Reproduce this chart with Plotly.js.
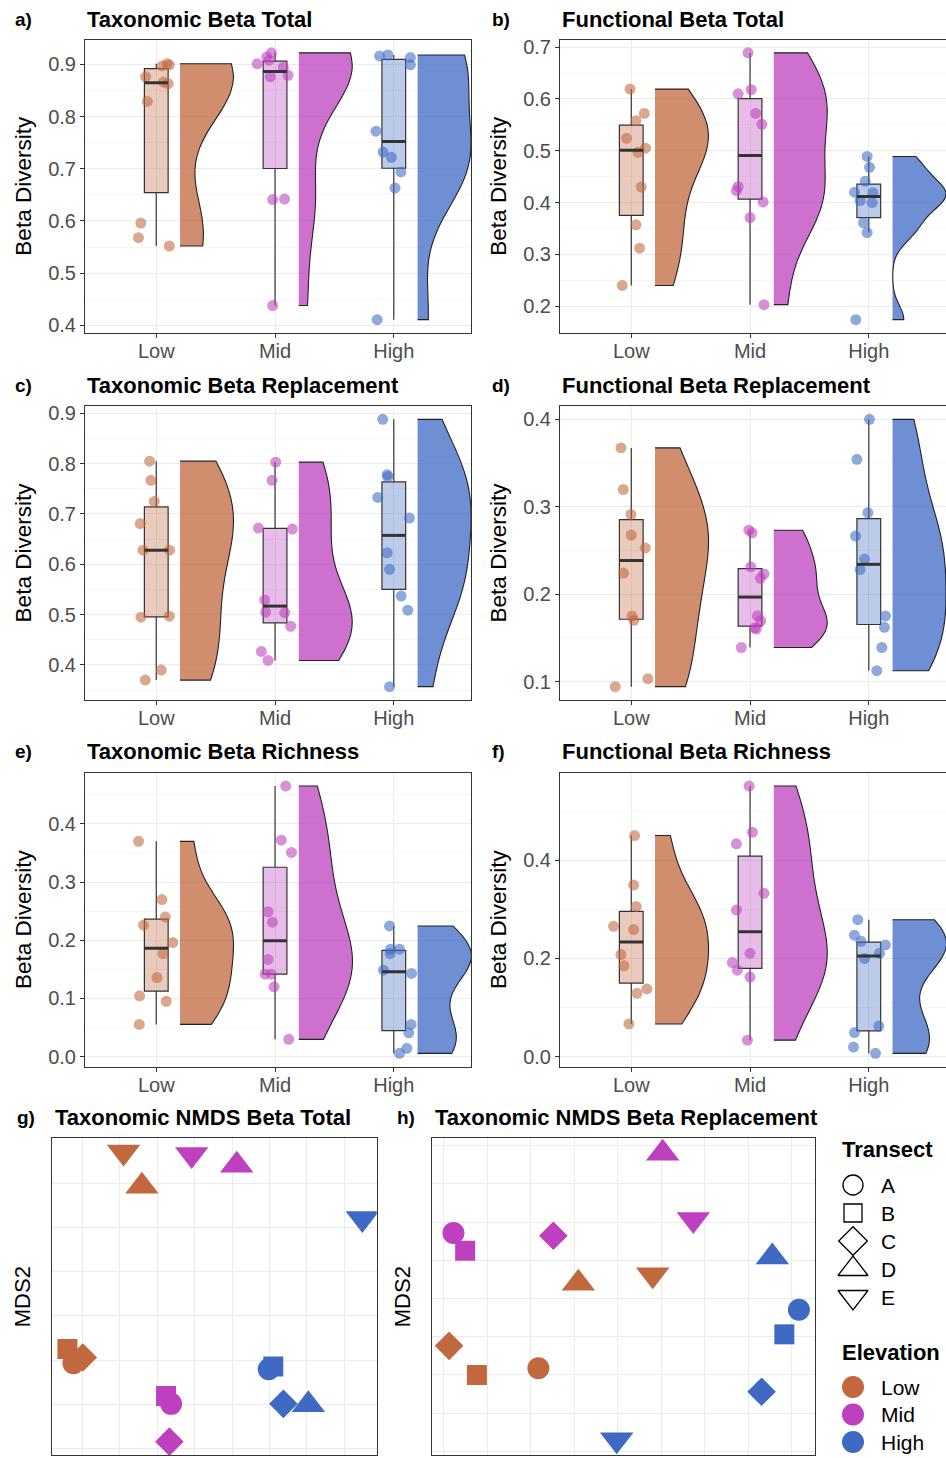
<!DOCTYPE html>
<html><head><meta charset="utf-8">
<script src="https://cdn.plot.ly/plotly-3.0.1.min.js"></script>
<style>html,body{margin:0;padding:0;background:#fff;} #chart{width:946px;height:1458px;}</style>
</head><body><div id="chart"></div>
<script>
// ---------------- DATA ----------------
const elevations = ['Low', 'Mid', 'High'];
const transects = ['A', 'B', 'C', 'D', 'E'];

// a) Taxonomic Beta Total  (rows: Low, Mid, High)
const taxTotal = [
  [0.901, 0.899, 0.897, 0.876, 0.866, 0.863, 0.829, 0.596, 0.568, 0.552],
  [0.901, 0.914, 0.922, 0.908, 0.894, 0.879, 0.876, 0.641, 0.642, 0.438],
  [0.916, 0.918, 0.913, 0.899, 0.772, 0.732, 0.722, 0.694, 0.663, 0.411]
];
const taxTotalJitter = [
  [0.09, 0.11, 0.05, -0.09, 0.06, 0.10, -0.075, -0.13, -0.15, 0.11],
  [-0.15, -0.07, -0.03, -0.05, 0.07, 0.11, -0.04, -0.02, 0.08, -0.02],
  [-0.12, -0.05, 0.14, 0.14, -0.15, -0.09, -0.02, 0.06, 0.01, -0.14]
];
// b) Functional Beta Total
const funTotal = [
  [0.619, 0.572, 0.558, 0.524, 0.505, 0.497, 0.430, 0.357, 0.312, 0.240],
  [0.689, 0.610, 0.618, 0.572, 0.551, 0.431, 0.423, 0.401, 0.371, 0.203],
  [0.489, 0.468, 0.441, 0.420, 0.419, 0.404, 0.400, 0.361, 0.342, 0.174]
];
const funTotalJitter = [
  [-0.01, 0.11, 0.04, -0.04, 0.12, 0.056, 0.084, 0.04, 0.07, -0.076],
  [-0.017, -0.10, 0.01, 0.048, 0.10, -0.10, -0.115, 0.11, 0.0, 0.118],
  [-0.014, 0.006, -0.03, -0.12, 0.034, -0.073, 0.028, -0.045, -0.014, -0.11]
];
// c) Taxonomic Beta Replacement
const taxRepl = [
  [0.805, 0.767, 0.725, 0.681, 0.628, 0.628, 0.495, 0.497, 0.390, 0.370],
  [0.803, 0.767, 0.672, 0.670, 0.529, 0.505, 0.504, 0.477, 0.427, 0.409],
  [0.888, 0.778, 0.774, 0.733, 0.692, 0.623, 0.590, 0.537, 0.509, 0.357]
];
const taxReplJitter = [
  [-0.056, -0.045, -0.017, -0.135, -0.112, 0.112, -0.129, 0.11, 0.042, -0.093],
  [0.006, -0.025, -0.14, 0.146, -0.087, -0.079, 0.081, 0.132, -0.115, -0.059],
  [-0.093, -0.056, -0.05, -0.135, 0.132, -0.056, -0.036, 0.062, 0.118, -0.036]
];
// d) Functional Beta Replacement
const funRepl = [
  [0.367, 0.3195, 0.291, 0.2675, 0.2527, 0.224, 0.175, 0.170, 0.1034, 0.0943],
  [0.273, 0.270, 0.231, 0.223, 0.218, 0.1752, 0.1695, 0.1615, 0.160, 0.139],
  [0.3996, 0.354, 0.293, 0.2663, 0.240, 0.228, 0.175, 0.162, 0.139, 0.1125]
];
const funReplJitter = [
  [-0.087, -0.067, -0.003, 0.0, 0.118, -0.065, 0.006, 0.022, 0.14, -0.135],
  [-0.01, 0.017, 0.006, 0.118, 0.087, 0.062, 0.09, 0.04, 0.053, -0.073],
  [0.006, -0.10, -0.008, -0.112, -0.036, -0.073, 0.14, 0.132, 0.11, 0.067]
];
// e) Taxonomic Beta Richness
const taxRich = [
  [0.370, 0.270, 0.240, 0.226, 0.196, 0.177, 0.136, 0.1046, 0.095, 0.0554],
  [0.465, 0.372, 0.351, 0.249, 0.231, 0.167, 0.1417, 0.1417, 0.120, 0.0297],
  [0.2246, 0.1846, 0.1846, 0.177, 0.1486, 0.143, 0.0554, 0.041, 0.0143, 0.0057]
];
const taxRichJitter = [
  [-0.149, 0.048, 0.076, -0.107, 0.14, 0.056, 0.006, -0.14, 0.084, -0.143],
  [0.09, 0.053, 0.138, -0.059, -0.022, -0.059, -0.084, -0.031, -0.008, 0.115],
  [-0.036, -0.028, 0.048, -0.031, -0.087, 0.149, 0.146, 0.126, 0.11, 0.048]
];
// f) Functional Beta Richness
const funRich = [
  [0.4504, 0.3496, 0.306, 0.2655, 0.2588, 0.208, 0.185, 0.138, 0.129, 0.0666],
  [0.5512, 0.457, 0.4336, 0.3328, 0.2986, 0.2104, 0.1916, 0.1761, 0.162, 0.0336],
  [0.279, 0.2474, 0.235, 0.2276, 0.2104, 0.200, 0.0622, 0.049, 0.0195, 0.0067]
];
const funRichJitter = [
  [0.028, 0.02, 0.042, -0.149, 0.02, -0.087, -0.062, 0.132, 0.048, -0.02],
  [-0.008, 0.02, -0.115, 0.118, -0.115, 0.0, -0.149, -0.107, 0.0, -0.022],
  [-0.093, -0.121, -0.065, 0.14, 0.09, -0.036, 0.084, -0.121, -0.129, 0.056]
];

// g) Taxonomic NMDS Beta Total
const nmdsElev = ['Low','Low','Low','Low','Low','Mid','Mid','Mid','Mid','Mid','High','High','High','High','High'];
const nmdsTransect = ['B','A','C','D','E','B','A','C','D','E','B','A','C','D','E'];
const gMDS1 = [-0.440, -0.424, -0.399, -0.241, -0.290, -0.1765, -0.163, -0.1676, 0.0123, -0.108, 0.110, 0.0978, 0.137, 0.2037, 0.348];
const gMDS2 = [-0.0747, -0.107, -0.094, 0.2936, 0.371, -0.181, -0.199, -0.2845, 0.341, 0.3655, -0.1147, -0.1208, -0.199, -0.2008, 0.2206];
// h) Taxonomic NMDS Beta Replacement
const hMDS1 = [-0.324, -0.1825, -0.388, -0.0905, 0.0805, -0.351, -0.378, -0.148, 0.1035, 0.174, 0.3834, 0.417, 0.331, 0.3558, -0.0023];
const hMDS2 = [-0.200, -0.1826, -0.124, 0.0397, 0.0617, 0.125, 0.171, 0.164, 0.3797, 0.2067, -0.0939, -0.0296, -0.244, 0.1087, -0.3696];

// ---------------- STYLE ----------------
const W = 946, H = 1458;
const FONT = 'Liberation Sans, Arial, Helvetica, sans-serif';
const baseRGB = { Low: [193, 104, 62], Mid: [190, 64, 190], High: [62, 106, 196] };
const rgba = (c, a) => `rgba(${c[0]},${c[1]},${c[2]},${a})`;
const symbolOf = { A: 'circle', B: 'square', C: 'diamond', D: 'triangle-up', E: 'triangle-down' };
const sizeOf = { A: 22, B: 20, C: 22, D: 29, E: 29 };
const px = x => x / W;
const py = y => 1 - y / H;

// ---------------- STATS ----------------
function q7(s, p) { const h = (s.length - 1) * p; const lo = Math.floor(h); const hi = Math.min(lo + 1, s.length - 1); return s[lo] + (h - lo) * (s[hi] - s[lo]); }
function boxStats(v) {
  const s = [...v].sort((a, b) => a - b);
  const q1 = q7(s, 0.25), med = q7(s, 0.5), q3 = q7(s, 0.75), iqr = q3 - q1;
  const lf = s.find(x => x >= q1 - 1.5 * iqr);
  const uf = [...s].reverse().find(x => x <= q3 + 1.5 * iqr);
  return { q1, med, q3, lf, uf };
}
function bwNrd0(v) {
  const n = v.length, m = v.reduce((a, b) => a + b, 0) / n;
  const sd = Math.sqrt(v.reduce((a, b) => a + (b - m) ** 2, 0) / (n - 1));
  const s = [...v].sort((a, b) => a - b);
  const lo = Math.min(sd, (q7(s, 0.75) - q7(s, 0.25)) / 1.34);
  return 0.9 * lo * Math.pow(n, -0.2);
}

// ---------------- BUILD ----------------
const violinPanels = [
  { vals: taxTotal, jit: taxTotalJitter, title: 'Taxonomic Beta Total', tag: 'a)', dtick: 0.1 },
  { vals: funTotal, jit: funTotalJitter, title: 'Functional Beta Total', tag: 'b)', dtick: 0.1 },
  { vals: taxRepl, jit: taxReplJitter, title: 'Taxonomic Beta Replacement', tag: 'c)', dtick: 0.1 },
  { vals: funRepl, jit: funReplJitter, title: 'Functional Beta Replacement', tag: 'd)', dtick: 0.1 },
  { vals: taxRich, jit: taxRichJitter, title: 'Taxonomic Beta Richness', tag: 'e)', dtick: 0.1 },
  { vals: funRich, jit: funRichJitter, title: 'Functional Beta Richness', tag: 'f)', dtick: 0.2 }
];
const colPx = [[85, 471], [560, 946]];
const rowPx = [[39.5, 333], [406, 700], [772.7, 1066.7]];
const titleY = [19, 385, 751.7];
const tagX = [13, 490];

const traces = [];
const layout = {
  width: W, height: H, margin: { l: 0, r: 0, t: 0, b: 0 },
  paper_bgcolor: 'white', plot_bgcolor: 'white', showlegend: false,
  boxmode: 'overlay', violinmode: 'overlay', font: { family: FONT },
  annotations: []
};

function titleAnn(tx, ty, tag, tagx, title) {
  layout.annotations.push({ xref: 'paper', yref: 'paper', x: px(tagx), y: py(ty), xanchor: 'left', yanchor: 'middle',
    text: tag, showarrow: false, font: { family: FONT, size: 19, color: '#000', weight: 700 } });
  layout.annotations.push({ xref: 'paper', yref: 'paper', x: px(tx), y: py(ty), xanchor: 'left', yanchor: 'middle',
    text: title, showarrow: false, font: { family: FONT, size: 22, color: '#000', weight: 700 } });
}

const axisCommon = {
  showline: true, mirror: true, linecolor: '#333', linewidth: 1, zeroline: false,
  gridcolor: '#ebebeb', gridwidth: 1
};

violinPanels.forEach((p, k) => {
  const col = k % 2, row = Math.floor(k / 2);
  const sfx = k === 0 ? '' : String(k + 1);
  const xr = 'x' + sfx, yr = 'y' + sfx;
  const all = p.vals.flat();
  const mn = Math.min(...all), mx = Math.max(...all), pad = (mx - mn) * 0.05;

  p.vals.forEach((v, gi) => {
    const c = baseRGB[elevations[gi]];
    traces.push({ type: 'violin', xaxis: xr, yaxis: yr, x0: gi + 1.2, y: v, side: 'positive', width: 0.9,
      spanmode: 'hard', bandwidth: bwNrd0(v), scalegroup: 'panel' + k, scalemode: 'width',
      points: false, box: { visible: false }, meanline: { visible: false },
      fillcolor: rgba(c, 0.75), line: { color: '#222', width: 1.1 }, hoverinfo: 'skip' });
  });
  p.vals.forEach((v, gi) => {
    const c = baseRGB[elevations[gi]];
    const st = boxStats(v);
    traces.push({ type: 'box', xaxis: xr, yaxis: yr, x: [gi + 1], q1: [st.q1], median: [st.med], q3: [st.q3],
      lowerfence: [st.lf], upperfence: [st.uf], width: 0.2, whiskerwidth: 0, boxpoints: false,
      fillcolor: rgba(c, 0.35), line: { color: '#333', width: 1.2 }, hoverinfo: 'skip' });
  });
  p.vals.forEach((v, gi) => {
    const c = baseRGB[elevations[gi]];
    traces.push({ type: 'scatter', mode: 'markers', xaxis: xr, yaxis: yr,
      x: v.map((_, i) => gi + 1 + p.jit[gi][i]), y: v,
      marker: { size: 11, color: rgba(c, 0.58), opacity: 1, line: { width: 0 } }, hoverinfo: 'skip' });
    const st = boxStats(v);
    traces.push({ type: 'scatter', mode: 'lines', xaxis: xr, yaxis: yr,
      x: [gi + 1 - 0.1, gi + 1 + 0.1], y: [st.med, st.med],
      line: { color: '#333', width: 3 }, hoverinfo: 'skip' });
  });

  layout['xaxis' + sfx] = Object.assign({}, axisCommon, {
    domain: [px(colPx[col][0]), px(colPx[col][1])], anchor: yr, range: [0.4, 3.65],
    tickvals: [1, 2, 3], ticktext: elevations, showgrid: true,
    ticks: 'outside', ticklen: 4, tickcolor: '#333', tickwidth: 1, ticklabelstandoff: -4,
    tickfont: { family: FONT, size: 20, color: '#4d4d4d' }
  });
  layout['yaxis' + sfx] = Object.assign({}, axisCommon, {
    domain: [py(rowPx[row][1]), py(rowPx[row][0])], anchor: xr, range: [mn - pad, mx + pad],
    tick0: 0, dtick: p.dtick, tickformat: '.1f', showgrid: true,
    minor: { dtick: p.dtick / 2, tick0: 0, showgrid: true, gridcolor: '#f2f2f2', gridwidth: 0.7 },
    ticks: 'outside', ticklen: 4, tickcolor: '#333', tickwidth: 1,
    tickfont: { family: FONT, size: 20, color: '#4d4d4d' },
    title: { text: 'Beta Diversity', font: { family: FONT, size: 22.5, color: '#000' }, standoff: 10 }
  });
  titleAnn(colPx[col][0], titleY[row], p.tag, tagX[col], p.title);
});

// NMDS panels
const nmds = [
  { x: gMDS1, y: gMDS2, title: 'Taxonomic NMDS Beta Total', tag: 'g)', xpx: [51.7, 376.7], tagx: 15,
    xrange: [-0.482, 0.3863], yrange: [-0.3147, 0.402] },
  { x: hMDS1, y: hMDS2, title: 'Taxonomic NMDS Beta Replacement', tag: 'h)', xpx: [431.7, 815], tagx: 395,
    xrange: [-0.428, 0.454], yrange: [-0.4096, 0.419] }
];
nmds.forEach((p, j) => {
  const n = 7 + j, xr = 'x' + n, yr = 'y' + n;
  traces.push({ type: 'scatter', mode: 'markers', xaxis: xr, yaxis: yr, x: p.x, y: p.y,
    marker: { symbol: nmdsTransect.map(t => symbolOf[t]), size: nmdsTransect.map(t => sizeOf[t]), opacity: 1,
      color: nmdsElev.map(e => rgba(baseRGB[e], 1)), line: { width: 0 } }, hoverinfo: 'skip' });
  layout['xaxis' + n] = Object.assign({}, axisCommon, {
    domain: [px(p.xpx[0]), px(p.xpx[1])], anchor: yr, range: p.xrange, tick0: 0, dtick: 0.1,
    showgrid: true, showticklabels: false, ticks: ''
  });
  layout['yaxis' + n] = Object.assign({}, axisCommon, {
    domain: [py(1455), py(1138.3)], anchor: xr, range: p.yrange, tick0: 0, dtick: 0.1,
    showgrid: true, showticklabels: false, ticks: '',
    title: { text: 'MDS2', font: { family: FONT, size: 22, color: '#000' }, standoff: 13 }
  });
  titleAnn(p.xpx[0] + 1, 1117.5, p.tag, p.tagx, p.title);
});

// Legend (drawn as its own hidden-axis subplot, positions in px)
layout.xaxis9 = { domain: [px(820), 1], range: [820, 946], visible: false, fixedrange: true };
layout.yaxis9 = { domain: [0, py(1125)], range: [1458, 1125], visible: false, anchor: 'x9' };
const legSymX = 853, legTxtX = 879;
const tRowY = transects.map((t, i) => 1185 + i * 28);
const eRowY = elevations.map((e, i) => 1387 + i * 27.5);
const legSize = { A: 20, B: 18, C: 22, D: 26, E: 26 };
traces.push({ type: 'scatter', mode: 'markers', xaxis: 'x9', yaxis: 'y9',
  x: transects.map(() => legSymX), y: tRowY,
  marker: { symbol: transects.map(t => symbolOf[t] + '-open'), size: transects.map(t => legSize[t]), opacity: 1,
    color: '#000', line: { width: 1.3, color: '#000' } }, hoverinfo: 'skip', cliponaxis: false });
traces.push({ type: 'scatter', mode: 'markers', xaxis: 'x9', yaxis: 'y9',
  x: elevations.map(() => legSymX), y: eRowY,
  marker: { symbol: 'circle', size: 22, opacity: 1, color: elevations.map(e => rgba(baseRGB[e], 1)) }, hoverinfo: 'skip', cliponaxis: false });
layout.annotations.push({ xref: 'paper', yref: 'paper', x: px(840), y: py(1149), xanchor: 'left', yanchor: 'middle',
  text: 'Transect', showarrow: false, font: { family: FONT, size: 22, color: '#000', weight: 700 } });
layout.annotations.push({ xref: 'paper', yref: 'paper', x: px(840), y: py(1352), xanchor: 'left', yanchor: 'middle',
  text: 'Elevation', showarrow: false, font: { family: FONT, size: 22, color: '#000', weight: 700 } });
transects.forEach((t, i) => layout.annotations.push({ xref: 'paper', yref: 'paper', x: px(legTxtX), y: py(tRowY[i]),
  xanchor: 'left', yanchor: 'middle', text: t, showarrow: false, font: { family: FONT, size: 21, color: '#000' } }));
elevations.forEach((e, i) => layout.annotations.push({ xref: 'paper', yref: 'paper', x: px(legTxtX), y: py(eRowY[i]),
  xanchor: 'left', yanchor: 'middle', text: e, showarrow: false, font: { family: FONT, size: 21, color: '#000' } }));

Plotly.newPlot('chart', traces, layout, { staticPlot: true, displayModeBar: false });
</script>
</body></html>
